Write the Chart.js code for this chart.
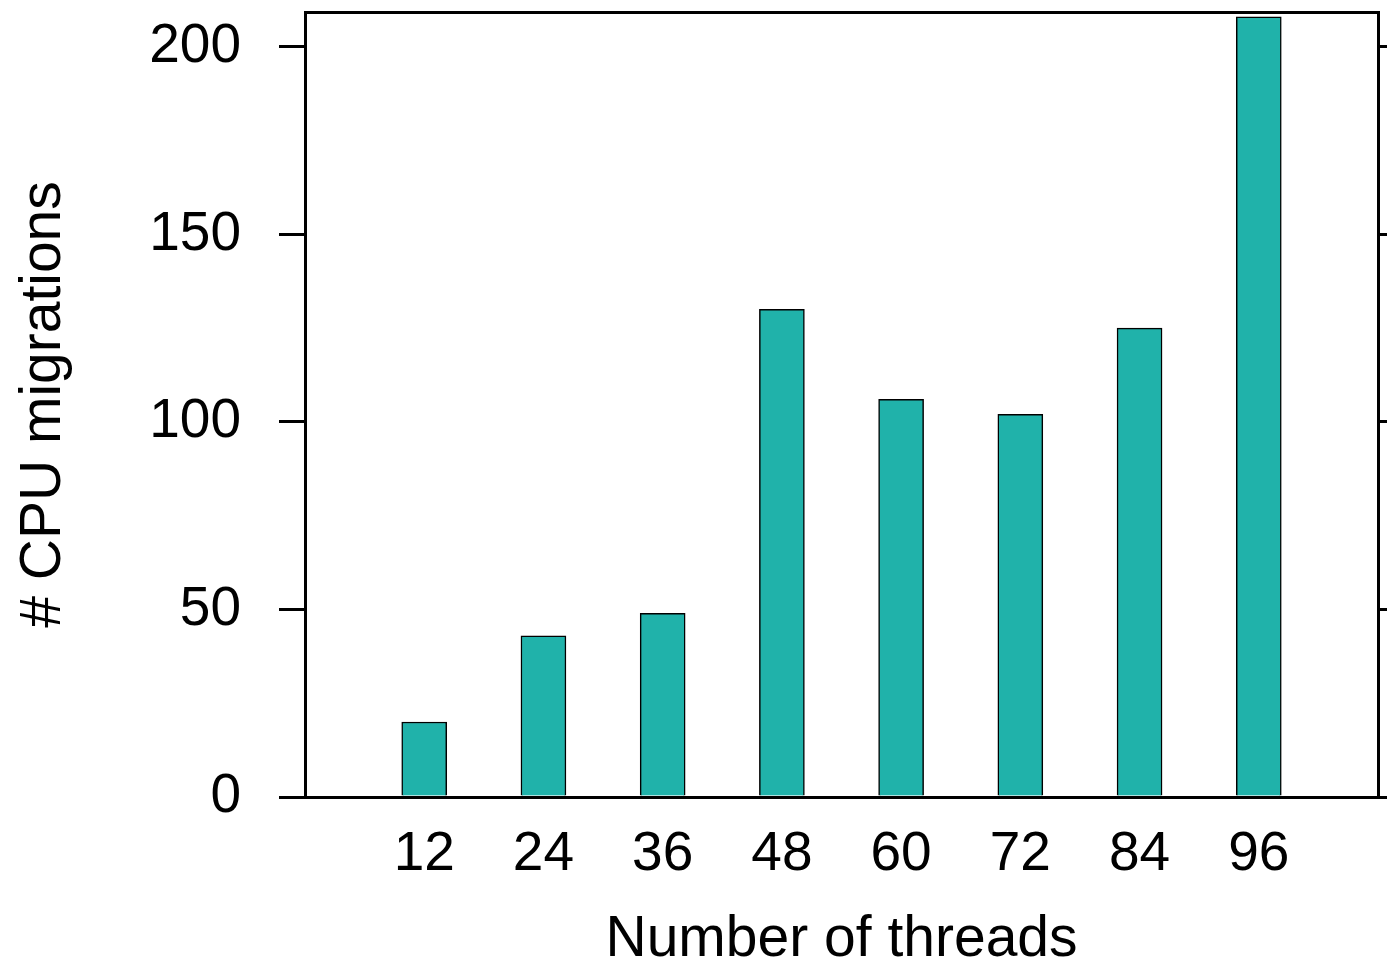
<!DOCTYPE html>
<html>
<head>
<meta charset="utf-8">
<script src="https://cdn.jsdelivr.net/npm/chart.js@4/dist/chart.umd.min.js"></script>
<style>
  body { margin: 0; background: #fff; }
  #wrap { width: 1387px; height: 965px; }
</style>
</head>
<body>
<div id="wrap"><canvas id="chart" width="1387" height="965"></canvas></div>
<script>
const threads = [12, 24, 36, 48, 60, 72, 84, 96];
const migrations = [20, 43, 49, 130, 106, 102, 125, 208];
const yTicks = [0, 50, 100, 150, 200];
const xTicks = [12, 24, 36, 48, 60, 72, 84, 96];

const fontFamily = "'Liberation Sans', Arial, Helvetica, sans-serif";
const tickFont = { family: fontFamily, size: 55 };
const titleFont = { family: fontFamily, size: 57, lineHeight: 1 };

const chartElement = document.getElementById('chart');

function keepTicks(list) {
  return function (scale) {
    scale.ticks = list.map(function (v) { return { value: v }; });
  };
}

// fixed box sizes so the plot frame lands where the reference has it
function fixSize(w, h) {
  return function (s) {
    if (w != null) s.width = w;
    if (h != null) s.height = h;
    s.paddingTop = 0;
    s.paddingBottom = 0;
    s.paddingLeft = 0;
    s.paddingRight = 0;
  };
}

var config = {
  type: 'bar',
  data: {
    datasets: [
      {
        label: '# CPU migrations',
        data: threads.map(function (t, i) { return { x: t, y: migrations[i] }; }),
        backgroundColor: '#20b2aa',
        borderColor: '#000000',
        borderWidth: 1.5,
        barThickness: 45,
      }
    ]
  },
  options: {
    responsive: false,
    animation: false,
    layout: { padding: 0 },
    plugins: {
      legend: { display: false },
      tooltip: { enabled: false },
    },
    scales: {
      x: {
        type: 'linear',
        position: 'bottom',
        offset: false,
        min: 0,
        max: 108,
        afterBuildTicks: keepTicks(xTicks),
        afterFit: fixSize(null, 168),
        grid: { display: false, drawTicks: false },
        border: { display: true, color: '#000', width: 3 },
        ticks: { color: '#000', font: tickFont, padding: 25, maxRotation: 0, autoSkip: false },
        title: {
          display: true,
          text: 'Number of threads',
          color: '#000',
          font: titleFont,
          padding: { top: 0, bottom: -4 },
        },
      },
      xTop: {
        type: 'linear',
        position: 'top',
        offset: false,
        min: 0,
        max: 108,
        afterFit: fixSize(null, 12),
        grid: { display: false, drawTicks: false },
        border: { display: true, color: '#000', width: 3 },
        ticks: { display: false },
      },
      y: {
        type: 'linear',
        position: 'left',
        min: 0,
        max: 209.3,
        afterBuildTicks: keepTicks(yTicks),
        afterFit: fixSize(305, null),
        grid: { display: true, drawOnChartArea: false, drawTicks: true, tickLength: 26, color: '#000', lineWidth: 3 },
        border: { display: true, color: '#000', width: 3 },
        ticks: { color: '#000', font: tickFont, padding: 38 },
        title: {
          display: true,
          text: '# CPU migrations',
          color: '#000',
          font: titleFont,
          padding: { top: 16, bottom: 0 },
        },
      },
      yRight: {
        type: 'linear',
        position: 'right',
        min: 0,
        max: 209.3,
        afterBuildTicks: keepTicks(yTicks),
        afterFit: fixSize(9, null),
        grid: { display: true, drawOnChartArea: false, drawTicks: true, tickLength: 9, color: '#000', lineWidth: 3 },
        border: { display: true, color: '#000', width: 3 },
        ticks: { display: false },
      },
    }
  },
};

var chart = new Chart(chartElement, config);
</script>
</body>
</html>
